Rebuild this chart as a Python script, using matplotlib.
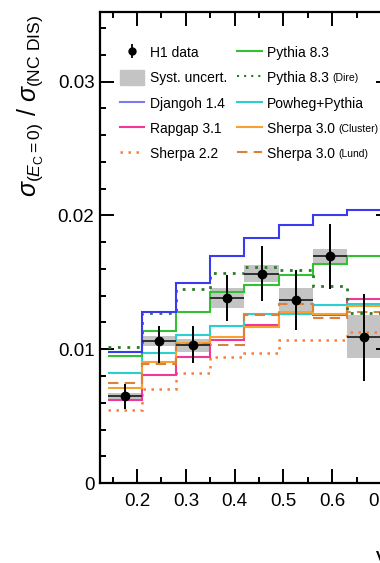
import numpy as np
import matplotlib
matplotlib.use("Agg")
import matplotlib.pyplot as plt
from matplotlib.patches import Patch
from matplotlib.ticker import MultipleLocator

plt.rcParams["font.family"] = ["Liberation Sans", "DejaVu Sans"]
plt.rcParams["mathtext.fontset"] = "custom"
plt.rcParams["mathtext.rm"] = "Liberation Sans"
plt.rcParams["mathtext.it"] = "Liberation Sans:italic"

# ---- binning in y ------------------------------------------------------------
edges = np.array([0.14, 0.21, 0.28, 0.35, 0.42, 0.49, 0.56, 0.63, 0.70])
centers = 0.5 * (edges[:-1] + edges[1:])

# ---- H1 measurement ----------------------------------------------------------
data = [0.00652, 0.01060, 0.01035, 0.01383, 0.01565, 0.01366, 0.01697, 0.01092]
stat_up = [0.00092, 0.00110, 0.00139, 0.00174, 0.00206, 0.00229, 0.00241, 0.00324]
stat_dn = [0.00095, 0.00166, 0.00137, 0.00174, 0.00205, 0.00224, 0.00244, 0.00331]
syst_lo = [0.00619, 0.01022, 0.00980, 0.01311, 0.01502, 0.01270, 0.01640, 0.00933]
syst_hi = [0.00674, 0.01097, 0.01075, 0.01458, 0.01627, 0.01460, 0.01751, 0.01254]

# ---- MC predictions ----------------------------------------------------------
djangoh = [0.00980, 0.01279, 0.01498, 0.01694, 0.01833, 0.01930, 0.02007, 0.02042]
rapgap = [0.00624, 0.00806, 0.00943, 0.01067, 0.01179, 0.01266, 0.01254, 0.01373]
sherpa22 = [0.00545, 0.00701, 0.00823, 0.00940, 0.00973, 0.01072, 0.01072, 0.01130]
pythia = [0.00950, 0.01137, 0.01279, 0.01428, 0.01478, 0.01557, 0.01635, 0.01697]
pythia_dire = [0.01017, 0.01271, 0.01453, 0.01570, 0.01615, 0.01595, 0.01470, 0.01271]
powheg = [0.00819, 0.00973, 0.01104, 0.01174, 0.01261, 0.01266, 0.01328, 0.01341]
sherpa30_cluster = [0.00711, 0.00905, 0.01047, 0.01092, 0.01167, 0.01279, 0.01261, 0.01321]
sherpa30_lund = [0.00751, 0.00893, 0.01037, 0.01035, 0.01254, 0.01341, 0.01234, 0.01276]

fig = plt.figure(figsize=(3.8, 5.63), dpi=100)
# right end of the axis runs past the figure edge
ax = fig.add_axes([0.263, 0.142, 0.763, 0.8366])

# systematic bands
lo = np.array(syst_lo)
hi = np.array(syst_hi)
ax.bar(centers, hi - lo, bottom=lo, width=np.diff(edges), color="#c4c4c4",
       edgecolor="none", zorder=1)

# model curves
ax.stairs(sherpa22, edges, baseline=None, color="#f5813a", lw=1.8, ls=(0, (1, 2.2)), zorder=2)
ax.stairs(rapgap, edges, baseline=None, color="#f0389a", lw=1.5, zorder=2)
ax.stairs(powheg, edges, baseline=None, color="#2ccfd0", lw=1.5, zorder=2)
ax.stairs(sherpa30_cluster, edges, baseline=None, color="#f8a030", lw=1.5, zorder=2)
ax.stairs(sherpa30_lund, edges, baseline=None, color="#d9823c", lw=1.5, ls=(0, (5, 3)), zorder=2)
ax.stairs(pythia, edges, baseline=None, color="#33c133", lw=1.5, zorder=2)
ax.stairs(pythia_dire, edges, baseline=None, color="#2b7a2b", lw=2.0, ls=(0, (1, 2.4)), zorder=2)
ax.stairs(djangoh, edges, baseline=None, color="#3a3af0", lw=1.5, zorder=2)

# data points with bin-width bars
ax.hlines(data, edges[:-1], edges[1:], color="#303030", lw=1.4, zorder=3)
ax.errorbar(centers, data, yerr=[stat_dn, stat_up], fmt="o", color="black",
            ms=6, elinewidth=1.4, capsize=0, zorder=4)

ax.set_xlim(0.124, 0.718)
ax.set_ylim(0, 0.0352)
ax.xaxis.set_major_locator(MultipleLocator(0.1))
ax.xaxis.set_minor_locator(MultipleLocator(0.05))
ax.yaxis.set_major_locator(MultipleLocator(0.01))
ax.yaxis.set_minor_locator(MultipleLocator(0.002))
ax.set_yticks([0, 0.01, 0.02, 0.03], ["0", "0.01", "0.02", "0.03"])
ax.set_xticks([0.2, 0.3, 0.4, 0.5, 0.6, 0.7],
              ["0.2", "0.3", "0.4", "0.5", "0.6", "0.7"])
ax.tick_params(which="both", direction="in", top=True, right=True,
               labelsize=13.5, width=1.4)
ax.tick_params(which="major", length=10)
ax.tick_params(which="minor", length=4.5)
ax.tick_params(axis="x", pad=7)
ax.tick_params(axis="y", pad=4)
for s in ax.spines.values():
    s.set_linewidth(1.6)

ax.set_ylabel(r"$\sigma_{(E_{\rm C}=0)}\ /\ \sigma_{\rm (NC\ DIS)}$",
              fontsize=18, loc="top")
ax.yaxis.set_label_coords(-0.19, 0.995)
ax.set_xlabel("y", fontsize=17, ha="left")
ax.xaxis.set_label_coords(0.952, -0.135)

# legend
h_data = ax.errorbar([], [], yerr=[], fmt="o", color="black", ms=5,
                     elinewidth=1.3, capsize=0)
handles = [
    h_data,
    Patch(color="#c4c4c4"),
    plt.Line2D([], [], color="#7b7bf0", lw=1.5),
    plt.Line2D([], [], color="#f0389a", lw=1.5),
    plt.Line2D([], [], color="#f5813a", lw=1.8, ls=(0, (1, 2.2))),
    plt.Line2D([], [], color="#33c133", lw=1.5),
    plt.Line2D([], [], color="#2b7a2b", lw=1.5, ls=(0, (1, 2.4))),
    plt.Line2D([], [], color="#2ccfd0", lw=1.5),
    plt.Line2D([], [], color="#f8a030", lw=1.5),
    plt.Line2D([], [], color="#d9823c", lw=1.5, ls=(0, (5, 3))),
]
labels = ["H1 data", "Syst. uncert.", "Djangoh 1.4", "Rapgap 3.1", "Sherpa 2.2",
          "Pythia 8.3", "Pythia 8.3", "Powheg+Pythia", "Sherpa 3.0", "Sherpa 3.0"]
suffix = {6: "(Dire)", 8: "(Cluster)", 9: "(Lund)"}
leg = ax.legend(handles, labels, ncol=2, loc="upper left",
                bbox_to_anchor=(0.069, 0.93), frameon=False, fontsize=10,
                borderpad=0, borderaxespad=0, handlelength=1.75,
                handleheight=1.3, handletextpad=0.4, columnspacing=0.75,
                labelspacing=0.72)

fig.canvas.draw()
texts = leg.get_texts()
inv = fig.transFigure.inverted()
for i, s in suffix.items():
    bb = texts[i].get_window_extent()
    x0, y0 = inv.transform((bb.x1 + 3, bb.y0 + 2))
    fig.text(x0, y0, s, fontsize=7.5, ha="left", va="bottom")

fig.savefig("out.png", dpi=100)
